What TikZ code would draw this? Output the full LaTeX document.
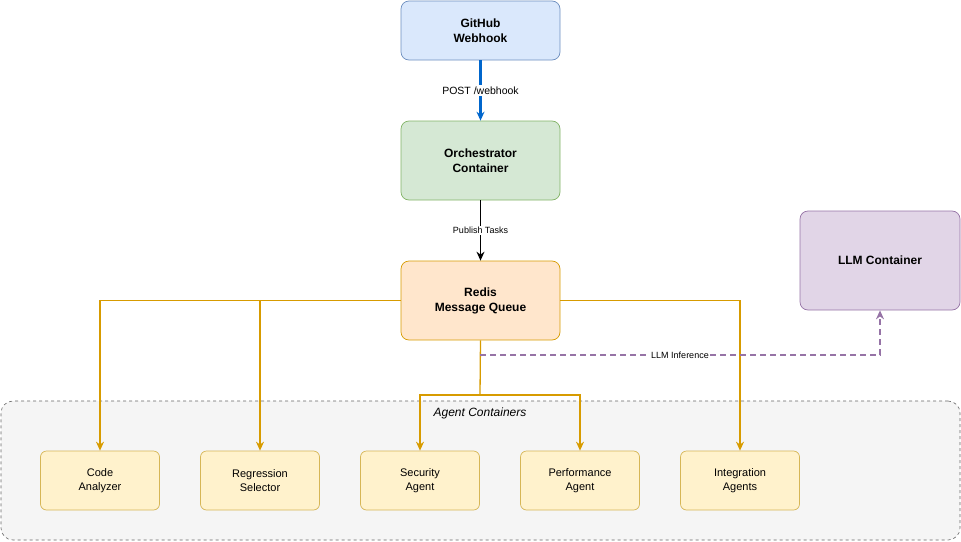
\documentclass[tikz,border=0pt]{standalone}
\usepackage{fontspec}
\setmainfont{Liberation Sans}
\usetikzlibrary{arrows.meta}
\definecolor{bfill}{HTML}{DAE8FC}\definecolor{bline}{HTML}{6C8EBF}
\definecolor{gfill}{HTML}{D5E8D4}\definecolor{gline}{HTML}{82B366}
\definecolor{ofill}{HTML}{FFE6CC}\definecolor{oline}{HTML}{D79B00}
\definecolor{pfill}{HTML}{E1D5E7}\definecolor{pline}{HTML}{9673A6}
\definecolor{yfill}{HTML}{FFF2CC}\definecolor{yline}{HTML}{D6B656}
\definecolor{grpfill}{HTML}{F5F5F5}\definecolor{grpline}{HTML}{666666}
\definecolor{blu}{HTML}{0066CC}
\begin{document}
\begin{tikzpicture}[x=1pt,y=-1pt,
 box/.style={draw,rounded corners=8pt,minimum width=159pt,minimum height=79pt,align=center,font=\bfseries\fontsize{12}{15}\selectfont,line width=0.7pt},
 agent/.style={draw=yline,fill=yfill,rounded corners=6pt,minimum width=119pt,minimum height=59pt,align=center,font=\fontsize{11}{14}\selectfont,line width=0.7pt},
 oarr/.style={draw=oline,line width=1.3pt,-{Stealth[length=9pt,width=8pt]}},
 lab/.style={fill=white,inner sep=1.5pt,text=black,font=\fontsize{10.5}{12}\selectfont}]
\useasboundingbox (0,0) rectangle (961,541);
\node[draw=grpline,fill=grpfill,dashed,rounded corners=12pt,minimum width=959pt,minimum height=139pt,line width=0.6pt] (grp) at (480.5,470.5) {};
\node[font=\itshape\fontsize{12}{14}\selectfont] (grplab) at (480,413) {Agent Containers};
\node[box,draw=bline,fill=bfill,minimum height=59pt] (gh) at (480.5,30.5) {GitHub\\Webhook};
\node[box,draw=gline,fill=gfill] (orc) at (480.5,160.5) {Orchestrator\\Container};
\node[box,draw=oline,fill=ofill] (red) at (480.5,300.5) {Redis\\Message Queue};
\node[box,draw=pline,fill=pfill,minimum width=160pt,minimum height=99pt] (llm) at (880,260.5) {LLM Container};
\node[agent] (a1) at (100,480.5) {Code\\Analyzer};
\node[agent] (a2) at (260,480.5) {Regression\\Selector};
\node[agent] (a3) at (420,480.5) {Security\\Agent};
\node[agent] (a4) at (580,480.5) {Performance\\Agent};
\node[agent] (a5) at (740,480.5) {Integration\\Agents};
\draw[blu,line width=2.4pt,-{Stealth[length=9pt,width=8pt]}] (gh) -- node[lab]{POST /webhook} (orc);
\draw[black,line width=1.3pt,-{Stealth[length=9pt,width=8pt]}] (orc) -- node[lab,font=\fontsize{9}{10}\selectfont]{Publish Tasks} (red);
\coordinate (jn) at (480,395);
\draw[oarr] (red.west) -| (a1.north);
\draw[oarr] (red.west) -| (a2.north);
\draw[oarr] (red.east) -| (a5.north);
\draw[draw=oline,line width=1.3pt] (red.south) -- (jn);
\draw[oarr] (jn) -| (a3.north);
\draw[oarr] (jn) -| (a4.north);
\coordinate (ls) at (480,355);
\draw[pline,line width=1.3pt,dash pattern=on 6pt off 4pt,-{Stealth[length=9pt,width=8pt]}] (ls) -| node[lab,pos=0.25,font=\fontsize{9}{10}\selectfont]{LLM Inference} (llm.south);
\end{tikzpicture}
\end{document}
